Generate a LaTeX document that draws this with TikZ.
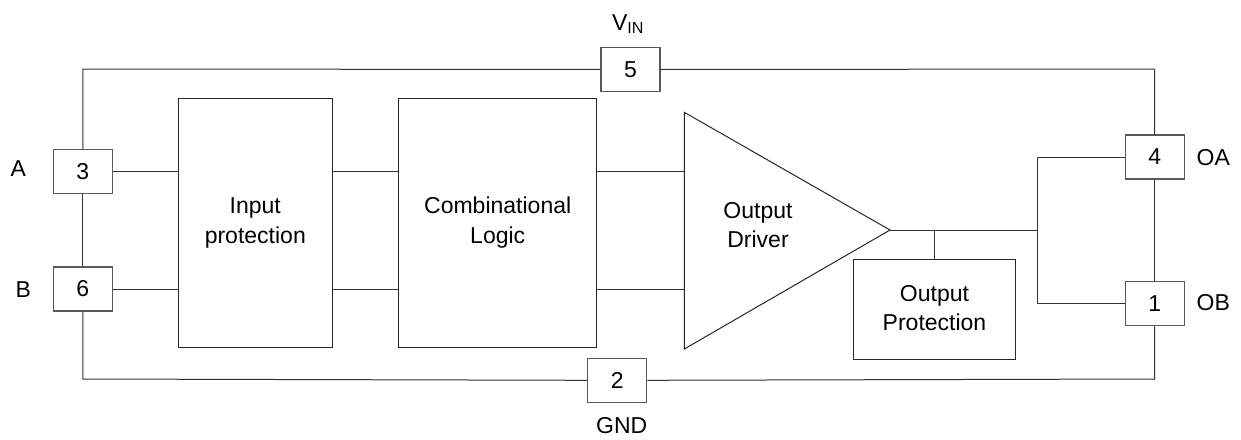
\documentclass[tikz,border=0pt]{standalone}
\usepackage{fontspec}
\setmainfont{Liberation Sans}
\begin{document}
\begin{tikzpicture}[x=1pt,y=-1pt,
  line width=1pt, draw=black!85,
  every node/.style={font=\fontsize{23}{29.5}\selectfont, inner sep=0pt, text=black},
  pin/.style={draw=black!65, line width=1.1pt, minimum width=59pt, minimum height=44pt},
  blk/.style={draw=black!85, align=center},
  lbl/.style={anchor=base},
  wire/.style={draw=black!80, line width=1pt}]
\useasboundingbox (0,0) rectangle (1241,439);

% pins
\node[pin] (p5) at (630.5,69.5) {5};
\node[pin] (p3) at (82.8,171.7) {3};
\node[pin] (p6) at (82.8,289) {6};
\node[pin] (p2) at (617.2,380.3) {2};
\node[pin] (p4) at (1154.7,157) {4};
\node[pin] (p1) at (1154.7,303.7) {1};

% pin labels
\node[lbl] (lvin) at (628,30) {V\textsubscript{IN}};
\node[lbl] (la) at (18.3,176.7) {A};
\node[lbl] (lb) at (23.3,297.7) {B};
\node[lbl] (lgnd) at (621.7,433) {GND};
\node[lbl] (loa) at (1213.3,165.7) {OA};
\node[lbl] (lob) at (1213.3,310) {OB};

% corners of outer frame
\coordinate (tl) at (82.8,69);
\coordinate (tr) at (1154.7,69);
\coordinate (bl) at (82.8,379);
\coordinate (br) at (1154.7,379);

% blocks
\node[blk, minimum width=154pt, minimum height=249.4pt] (inp) at (255.3,223) {Input\\protection};
\node[blk, minimum width=198pt, minimum height=249pt] (comb) at (497.7,222.7) {Combinational\\Logic};
\node[blk, minimum width=161.6pt, minimum height=99.7pt] (outp) at (934.5,309.2) {};
\node (outptxt) at (934.5,308) [align=center] {Output\\Protection};

% triangle (output driver)
\coordinate (t1) at (684.3,112.3);
\coordinate (t2) at (684.3,349);
\coordinate (tip) at (890,230);
\draw[draw=black!85] (t1) -- (tip) -- (t2) -- cycle;
\node[align=center] (drv) at (758,225) {Output\\Driver};

% outer frame
\draw[wire] (p5.west) -- (tl) -- (p3.north);
\draw[wire] (p3.south) -- (p6.north);
\draw[wire] (p6.south) -- (bl) -- (p2.west);
\draw[wire] (p2.east) -- (br) -- (p1.south);
\draw[wire] (p1.north) -- (p4.south);
\draw[wire] (p4.north) -- (tr) -- (p5.east);

% signal wires
\draw[wire] (p3.east) -- (p3.east -| inp.west);
\draw[wire] (p6.east) -- (p6.east -| inp.west);
\draw[wire] (inp.east |- p3.east) -- (comb.west |- p3.east);
\draw[wire] (inp.east |- p6.east) -- (comb.west |- p6.east);
\draw[wire] (comb.east |- p3.east) -- (t1 |- p3.east);
\draw[wire] (comb.east |- p6.east) -- (t1 |- p6.east);

% output wiring
\coordinate (j) at (1037.3,230);
\draw[wire] (tip) -- (j);
\draw[wire] (p4.west) -| (j) |- (p1.west);
\draw[wire] (outp.north) -- (outp.north |- tip);
\end{tikzpicture}
\end{document}
